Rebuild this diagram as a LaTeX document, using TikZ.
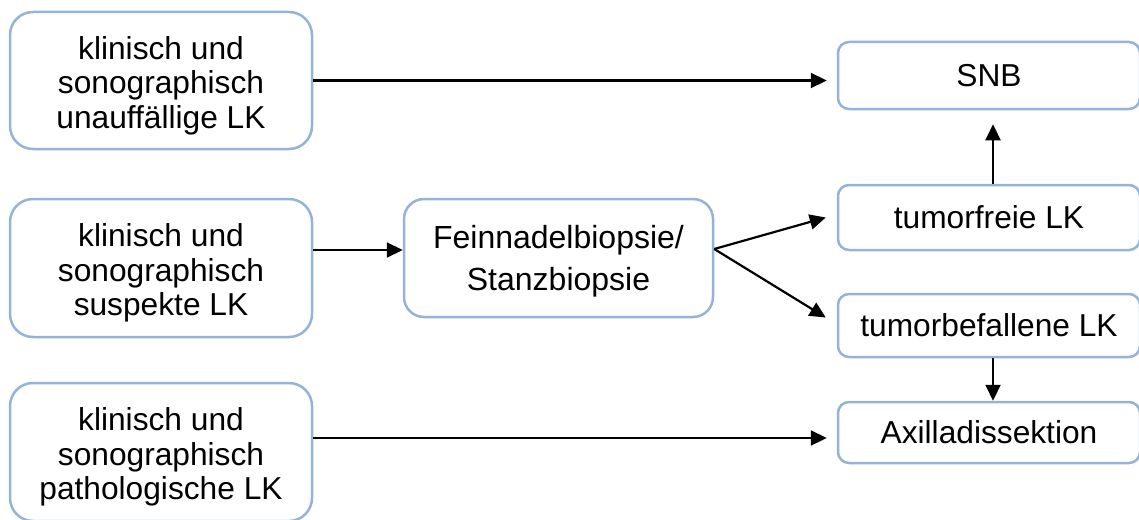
\documentclass[tikz,border=0pt]{standalone}
\usepackage{fontspec}
\setmainfont{Liberation Sans}
\usetikzlibrary{arrows.meta,calc}
\definecolor{boxblue}{RGB}{149,179,215}
\newcommand{\tstrut}[1]{\rule{0pt}{#1}}
\begin{document}
\begin{tikzpicture}[x=1pt,y=-1pt,
  box/.style={draw=boxblue, line width=2.5pt, fill=white, align=center,
    font=\fontsize{31.7}{34.7}\selectfont, inner sep=0pt},
  arr/.style={-{Triangle[length=16pt,width=15pt]}, line width=2.2pt, black}]
\useasboundingbox (0,0) rectangle (1139,519);

\node[box, minimum width=302pt, minimum height=137pt, rounded corners=23pt] (b1) at (161,80.5) {\tstrut{33pt}klinisch und\\sonographisch\\unauffällige LK};
\node[box, minimum width=302pt, minimum height=138pt, rounded corners=23pt] (b2) at (161,268) {\tstrut{33pt}klinisch und\\sonographisch\\suspekte LK};
\node[box, minimum width=302pt, minimum height=138pt, rounded corners=23pt] (b3) at (161,452) {\tstrut{33pt}klinisch und\\sonographisch\\pathologische LK};
\node[box, minimum width=309pt, minimum height=118pt, rounded corners=20pt, font=\fontsize{32}{42}\selectfont] (f) at (558.5,258) {\tstrut{29.5pt}Feinnadelbiopsie/\\Stanzbiopsie};
\node[box, minimum width=302pt, minimum height=67pt, rounded corners=11pt] (snb) at (989,75.5) {SNB};
\node[box, minimum width=302pt, minimum height=65pt, rounded corners=11pt] (tf) at (989,217.5) {tumorfreie LK};
\node[box, minimum width=302pt, minimum height=63pt, rounded corners=11pt] (tb) at (989,325.5) {tumorbefallene LK};
\node[box, minimum width=302pt, minimum height=61pt, rounded corners=11pt] (ax) at (989,432.5) {Axilladissektion};

\coordinate (fs) at ($(f.east)+(0,-9)$);
\draw[arr] (b1.east) -- ($(b1.east -| snb.west)+(-10,0)$);
\draw[arr] ($(b2.east)+(0,-18)$) -- ($(b2.east -| f.west)+(0,-18)$);
\draw[arr] (fs) -- ($(tf.west)+(-11,0)$);
\draw[arr] (fs) -- ($(tb.west)+(-11,-8)$);
\draw[arr] ($(tf.north)+(4,0)$) -- ($(snb.south)+(4,14)$);
\draw[arr] ($(tb.south)+(4,0)$) -- ($(ax.north)+(4,0)$);
\draw[arr] ($(b3.east)+(0,-14)$) -- ($(b3.east -| ax.west)+(-10,-14)$);
\end{tikzpicture}
\end{document}
